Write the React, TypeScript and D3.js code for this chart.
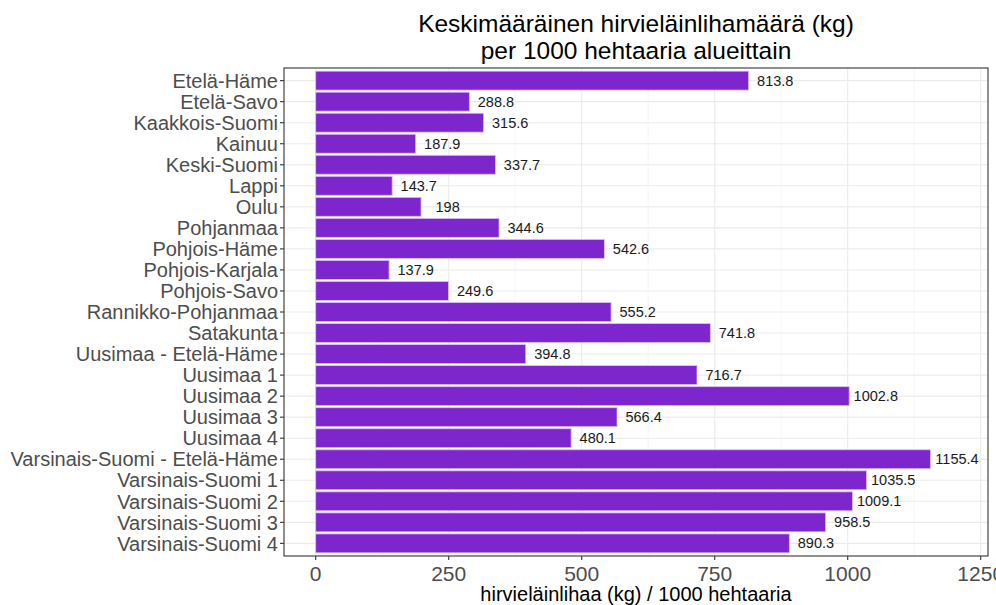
import React from "react";
import * as d3 from "d3";

const categories = [
  "Etelä-Häme", "Etelä-Savo", "Kaakkois-Suomi", "Kainuu", "Keski-Suomi", "Lappi", "Oulu",
  "Pohjanmaa", "Pohjois-Häme", "Pohjois-Karjala", "Pohjois-Savo", "Rannikko-Pohjanmaa",
  "Satakunta", "Uusimaa - Etelä-Häme", "Uusimaa 1", "Uusimaa 2", "Uusimaa 3", "Uusimaa 4",
  "Varsinais-Suomi - Etelä-Häme", "Varsinais-Suomi 1", "Varsinais-Suomi 2",
  "Varsinais-Suomi 3", "Varsinais-Suomi 4",
];
const values = [
  813.8, 288.8, 315.6, 187.9, 337.7, 143.7, 198, 344.6, 542.6, 137.9, 249.6, 555.2,
  741.8, 394.8, 716.7, 1002.8, 566.4, 480.1, 1155.4, 1035.5, 1009.1, 958.5, 890.3,
];
const labels = [
  "813.8", "288.8", "315.6", "187.9", "337.7", "143.7", "198", "344.6", "542.6", "137.9",
  "249.6", "555.2", "741.8", "394.8", "716.7", "1002.8", "566.4", "480.1", "1155.4",
  "1035.5", "1009.1", "958.5", "890.3",
];
const xTicks = [0, 250, 500, 750, 1000, 1250];
const xMinor = [125, 375, 625, 875, 1125];
const xDomain = [-59.6, 1263.7];
const labelNudge = 50;

const W = 996, H = 605;
const L = 284, R = 988, T = 68, B = 556;

export default function App() {
  const x = d3.scaleLinear().domain(xDomain).range([L, R]);
  const n = categories.length;
  const y = d3.scaleLinear().domain([0.4, n + 0.6]).range([T, B]);
  const bw = (y(1) - y(0)) * 0.9;
  const font = "Liberation Sans, Arial, sans-serif";
  return (
    <svg width={W} height={H} style={{ position: "absolute", left: 0, top: 0 }} fontFamily={font}>
      <rect x={0} y={0} width={W} height={H} fill="white" />
      <g>
        {xMinor.map((t) => (
          <line key={"m" + t} x1={x(t)} x2={x(t)} y1={T} y2={B} stroke="#F2F2F2" strokeWidth={0.6} />
        ))}
        {xTicks.map((t) => (
          <line key={"g" + t} x1={x(t)} x2={x(t)} y1={T} y2={B} stroke="#EBEBEB" strokeWidth={1.1} />
        ))}
        {categories.map((c, i) => (
          <line key={"h" + c} x1={L} x2={R} y1={y(i + 1)} y2={y(i + 1)} stroke="#EBEBEB" strokeWidth={1.1} />
        ))}
      </g>
      <g>
        {values.map((v, i) => (
          <rect key={i} x={x(0)} y={y(i + 1) - bw / 2} width={x(v) - x(0)} height={bw}
            fill="#7D26CD" stroke="#D9C2F0" strokeWidth={0.8} />
        ))}
        {values.map((v, i) => (
          <text key={"t" + i} x={x(v + labelNudge)} y={y(i + 1)} dy="0.35em" textAnchor="middle"
            fontSize={14.5} fill="#1a1a1a">{labels[i]}</text>
        ))}
      </g>
      <rect x={L} y={T} width={R - L} height={B - T} fill="none" stroke="#333333" strokeWidth={1.1} />
      <g>
        {categories.map((c, i) => (
          <g key={"yl" + c}>
            <line x1={L - 4} x2={L} y1={y(i + 1)} y2={y(i + 1)} stroke="#333333" strokeWidth={1.1} />
            <text x={L - 6} y={y(i + 1)} dy="0.36em" textAnchor="end" fontSize={20} fill="#4D4D4D">{c}</text>
          </g>
        ))}
        {xTicks.map((t) => (
          <g key={"xl" + t}>
            <line x1={x(t)} x2={x(t)} y1={B} y2={B + 4} stroke="#333333" strokeWidth={1.1} />
            <text x={x(t)} y={B + 25} textAnchor="middle" fontSize={21} fill="#4D4D4D">{t}</text>
          </g>
        ))}
      </g>
      <text x={(L + R) / 2} y={601} textAnchor="middle" fontSize={20} fill="#000">hirvieläinlihaa (kg) / 1000 hehtaaria</text>
      <text x={(L + R) / 2} y={32} textAnchor="middle" fontSize={24.5} fill="#000">Keskimääräinen hirvieläinlihamäärä (kg)</text>
      <text x={(L + R) / 2} y={59} textAnchor="middle" fontSize={24.5} fill="#000">per 1000 hehtaaria alueittain</text>
    </svg>
  );
}
